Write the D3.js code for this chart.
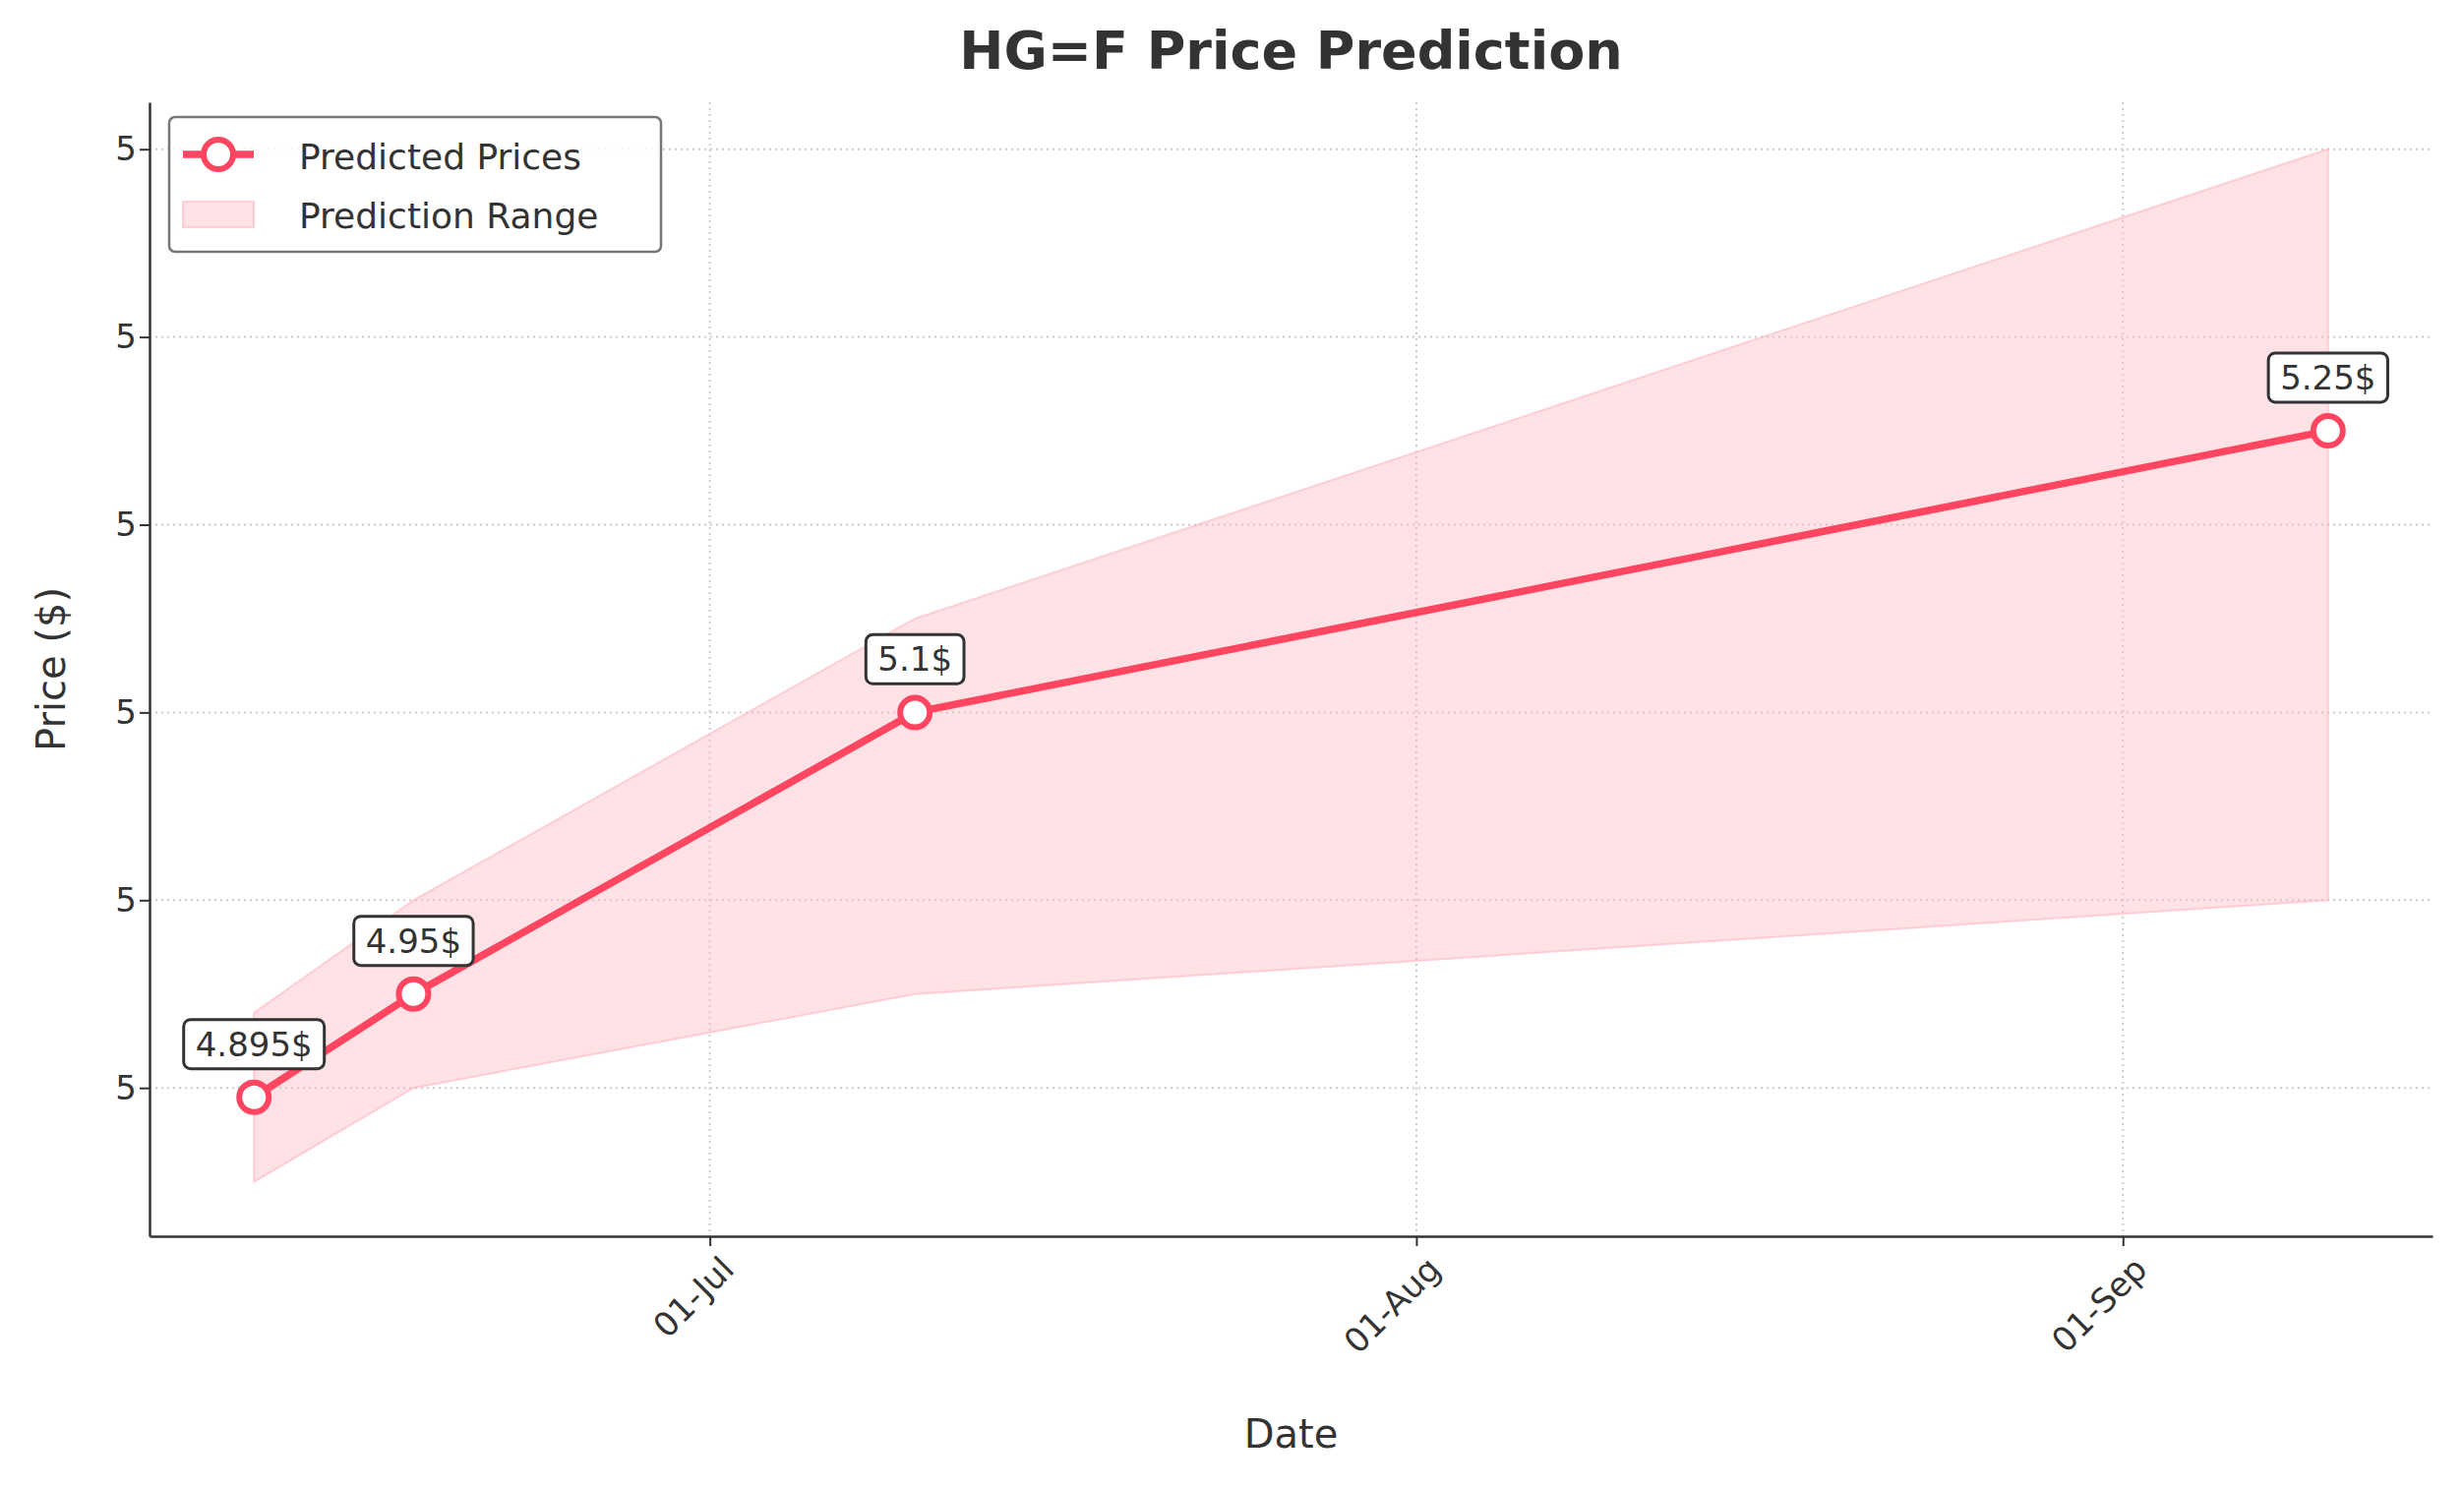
<!DOCTYPE html>
<html>
<head>
<meta charset="utf-8">
<script src="https://cdn.jsdelivr.net/npm/d3@7"></script>
<style>
  body { margin: 0; background: #fff; }
  text { font-family: "DejaVu Sans", sans-serif; fill: #333; }
</style>
</head>
<body>
<div id="chart"></div>
<script>
const dates = ["2024-06-11", "2024-06-18", "2024-07-10", "2024-09-10"];
const predicted = [4.895, 4.95, 5.1, 5.25];
const lower = [4.85, 4.9, 4.95, 5.0];
const upper = [4.94, 5.0, 5.15, 5.4];
const labels = ["4.895$", "4.95$", "5.1$", "5.25$"];
const yTicks = [4.9, 5.0, 5.1, 5.2, 5.3, 5.4];
const xTicks = ["2024-07-01", "2024-08-01", "2024-09-01"];

const w = 2505, h = 1513;
const m = { left: 152, right: 32, top: 104, bottom: 256 };
const parse = d3.timeParse("%Y-%m-%d");
const data = dates.map((d, i) => ({ date: parse(d), p: predicted[i], lo: lower[i], hi: upper[i], label: labels[i] }));
const red = "#ff4560";

const svg = d3.select("#chart").append("svg").attr("width", w).attr("height", h);

const xScale = d3.scaleTime()
    .domain([new Date(2024, 5, 6, 10), new Date(2024, 8, 14, 14)])
    .range([m.left, w - m.right]);
const yScale = d3.scaleLinear()
    .domain([4.821, 5.425])
    .range([h - m.bottom, m.top]);

// grid
svg.append("g").selectAll("line").data(yTicks).enter().append("line")
    .attr("x1", m.left).attr("x2", w - m.right)
    .attr("y1", d => yScale(d)).attr("y2", d => yScale(d))
    .attr("stroke", "#ccc").attr("stroke-width", 2).attr("stroke-dasharray", "2,4");
svg.append("g").selectAll("line").data(xTicks).enter().append("line")
    .attr("x1", d => xScale(parse(d))).attr("x2", d => xScale(parse(d)))
    .attr("y1", m.top).attr("y2", h - m.bottom)
    .attr("stroke", "#ccc").attr("stroke-width", 2).attr("stroke-dasharray", "2,4");

// range
const area = d3.area().x(d => xScale(d.date)).y0(d => yScale(d.lo)).y1(d => yScale(d.hi));
svg.append("path").datum(data).attr("d", area)
    .attr("fill", "#ffb6c1").attr("fill-opacity", 0.4)
    .attr("stroke", "#ffb6c1").attr("stroke-opacity", 0.6).attr("stroke-width", 2);

// line
const line = d3.line().x(d => xScale(d.date)).y(d => yScale(d.p));
svg.append("path").datum(data).attr("d", line)
    .attr("fill", "none").attr("stroke", red).attr("stroke-width", 7.5);
svg.selectAll(".pt").data(data).enter().append("circle")
    .attr("cx", d => xScale(d.date)).attr("cy", d => yScale(d.p)).attr("r", 15)
    .attr("fill", "#fff").attr("stroke", red).attr("stroke-width", 6);

// annotations
const ann = svg.selectAll(".ann").data(data).enter().append("g")
    .attr("transform", d => "translate(" + xScale(d.date) + "," + (yScale(d.p) - 54) + ")");
ann.append("text").attr("text-anchor", "middle").attr("dy", "0.35em")
    .style("font-size", "34px").text(d => d.label)
    .each(function () {
        const b = this.getBBox();
        d3.select(this.parentNode).insert("rect", "text")
            .attr("x", b.x - 12).attr("y", b.y - 5).attr("width", b.width + 24).attr("height", b.height + 10)
            .attr("rx", 7).attr("fill", "#fff").attr("stroke", "#333").attr("stroke-width", 3);
    });

// axes
const xAxis = d3.axisBottom(xScale).tickValues(xTicks.map(parse)).tickFormat(d3.timeFormat("%d-%b")).tickSize(10).tickSizeOuter(0);
const gx = svg.append("g").attr("transform", "translate(0," + (h - m.bottom) + ")").call(xAxis);
gx.selectAll("text").style("font-size", "34px")
    .attr("text-anchor", "end").attr("dx", "-0.2em").attr("dy", "0.9em")
    .attr("transform", "rotate(-45)");
const yAxis = d3.axisLeft(yScale).tickValues(yTicks).tickFormat(d3.format(".0f")).tickSize(10).tickSizeOuter(0);
const gy = svg.append("g").attr("transform", "translate(" + m.left + ",0)").call(yAxis);
gy.selectAll("text").style("font-size", "34px");
[gx, gy].forEach(g => {
    g.select(".domain").attr("stroke", "#333").attr("stroke-width", 2.5);
    g.selectAll(".tick line").attr("stroke", "#333").attr("stroke-width", 2);
});

// labels
svg.append("text").attr("x", (m.left + w - m.right) / 2).attr("y", 70).attr("text-anchor", "middle")
    .style("font-size", "54px").style("font-weight", "bold").text("HG=F Price Prediction");
svg.append("text").attr("x", (m.left + w - m.right) / 2).attr("y", 1472).attr("text-anchor", "middle")
    .style("font-size", "40px").text("Date");
svg.append("text").attr("transform", "translate(66," + ((m.top + h - m.bottom) / 2) + ") rotate(-90)")
    .attr("text-anchor", "middle").style("font-size", "40px").text("Price ($)");

// legend
const lg = svg.append("g").attr("transform", "translate(172,119)");
lg.append("rect").attr("width", 500).attr("height", 137).attr("rx", 6)
    .attr("fill", "#fff").attr("fill-opacity", 0.8).attr("stroke", "#777").attr("stroke-width", 2.5);
lg.append("line").attr("x1", 14).attr("x2", 86).attr("y1", 38).attr("y2", 38).attr("stroke", red).attr("stroke-width", 7.5);
lg.append("circle").attr("cx", 50).attr("cy", 38).attr("r", 15).attr("fill", "#fff").attr("stroke", red).attr("stroke-width", 6);
lg.append("rect").attr("x", 14).attr("y", 86).attr("width", 72).attr("height", 26)
    .attr("fill", "#ffb6c1").attr("fill-opacity", 0.4).attr("stroke", "#ffb6c1").attr("stroke-opacity", 0.6).attr("stroke-width", 2);
lg.append("text").attr("x", 132).attr("y", 40).attr("dy", "0.35em").style("font-size", "36px").text("Predicted Prices");
lg.append("text").attr("x", 132).attr("y", 100).attr("dy", "0.35em").style("font-size", "36px").text("Prediction Range");
</script>
</body>
</html>
